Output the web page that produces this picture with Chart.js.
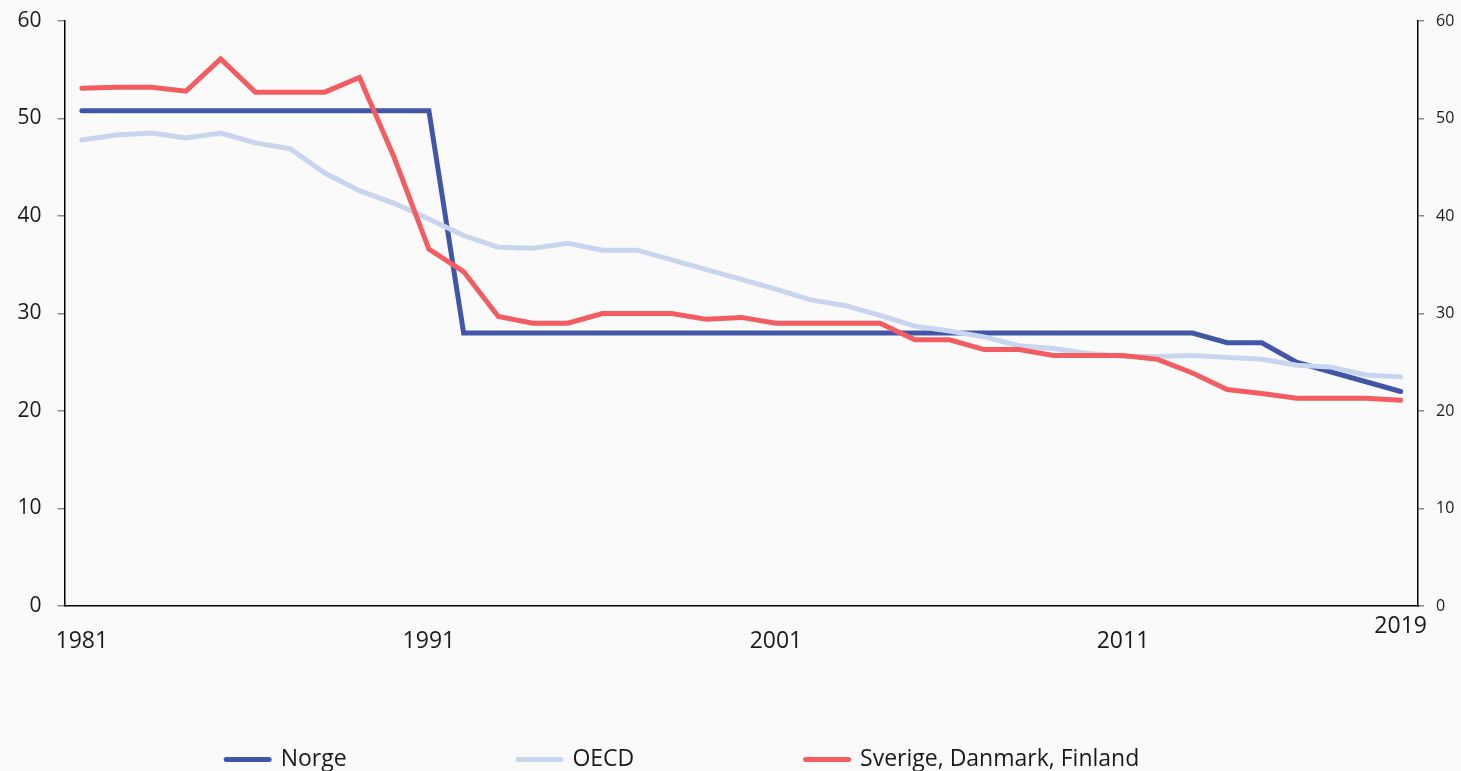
<!DOCTYPE html>
<html>
<head>
<meta charset="utf-8">
<script src="https://cdn.jsdelivr.net/npm/chart.js@4.4.1/dist/chart.umd.min.js"></script>
<style>
  html, body { margin: 0; padding: 0; background: #fafafa; overflow: hidden; }
  #wrap { width: 1461px; height: 771px; }
</style>
</head>
<body>
<div id="wrap"><canvas id="chart"></canvas></div>
<script>
const years = ['1981','1982','1983','1984','1985','1986','1987','1988','1989','1990',
  '1991','1992','1993','1994','1995','1996','1997','1998','1999','2000',
  '2001','2002','2003','2004','2005','2006','2007','2008','2009','2010',
  '2011','2012','2013','2014','2015','2016','2017','2018','2019'];
const xTickLabels = ['1981', '1991', '2001', '2011', '2019'];

const norge = [50.8, 50.8, 50.8, 50.8, 50.8, 50.8, 50.8, 50.8, 50.8, 50.8,
  50.8, 28, 28, 28, 28, 28, 28, 28, 28, 28,
  28, 28, 28, 28, 28, 28, 28, 28, 28, 28,
  28, 28, 28, 27, 27, 25, 24, 23, 22];
const oecd = [47.8, 48.3, 48.5, 48.0, 48.5, 47.5, 46.9, 44.4, 42.6, 41.3,
  39.7, 38.0, 36.8, 36.7, 37.2, 36.5, 36.5, 35.5, 34.5, 33.5,
  32.5, 31.4, 30.8, 29.8, 28.7, 28.2, 27.6, 26.7, 26.4, 25.9,
  25.6, 25.6, 25.7, 25.5, 25.3, 24.7, 24.5, 23.7, 23.5];
const nordic = [53.1, 53.2, 53.2, 52.8, 56.1, 52.7, 52.7, 52.7, 54.2, 46.0,
  36.6, 34.3, 29.7, 29.0, 29.0, 30.0, 30.0, 30.0, 29.4, 29.6,
  29.0, 29.0, 29.0, 29.0, 27.3, 27.3, 26.3, 26.3, 25.7, 25.7,
  25.7, 25.3, 23.9, 22.2, 21.8, 21.3, 21.3, 21.3, 21.1];

const FONT = '"Open Sans", "Noto Sans", sans-serif';
const legendSize = 23;
// room each legend text takes, so the items spread out like the original
const legendRoom = [229.5, 225.5, 372.5];

const measure = document.createElement('canvas').getContext('2d');
measure.font = legendSize + 'px ' + FONT;
function padLabel(text, px) {
  let s = text;
  while (Math.abs(measure.measureText(s + ' ').width - px) < Math.abs(measure.measureText(s).width - px)) s += ' ';
  return s;
}

Chart.defaults.font.family = FONT;
Chart.defaults.color = '#1a1a1a';

const line = (label, data, color, order) => ({
  label, data, order,
  borderColor: color,
  backgroundColor: color,
  borderWidth: 5,
  borderCapStyle: 'round',
  pointRadius: 0,
  tension: 0
});

// y axes: fixed width, no extra room above/below for the end labels
const fixY = w => s => { s.width = w; s.paddingTop = 0; s.paddingBottom = 0; };

new Chart(document.getElementById('chart'), {
  type: 'line',
  data: {
    labels: years,
    datasets: [
      line('Norge', norge, '#4256a8', 3),
      line('OECD', oecd, '#c8d5ee', 2),
      line('Sverige, Danmark, Finland', nordic, '#f35d61', 1)
    ]
  },
  options: {
    responsive: true,
    maintainAspectRatio: false,
    animation: false,
    layout: { padding: { top: 21, bottom: -10, left: 0, right: 0 } },
    scales: {
      x: {
        offset: true,
        grid: { display: false, drawTicks: false },
        border: { display: true, color: '#000', width: 1.5 },
        ticks: {
          autoSkip: false,
          maxRotation: 0,
          padding: 13,
          font: { size: 23, lineHeight: 0.652 },
          callback: function (v, i) {
            const l = years[i];
            if (!xTickLabels.includes(l)) return null;
            return i === years.length - 1 ? l : ['', l];
          }
        },
        afterFit: s => { s.height = 132; }
      },
      y: {
        position: 'left',
        min: 0, max: 60,
        ticks: { stepSize: 10, padding: 16, font: { size: 21 } },
        grid: { drawOnChartArea: false, tickLength: 7, color: '#888', lineWidth: 1.5 },
        border: { color: '#000', width: 1.5 },
        afterFit: fixY(64.5)
      },
      y2: {
        position: 'right',
        min: 0, max: 60,
        ticks: { stepSize: 10, padding: 12, font: { size: 16 } },
        grid: { drawOnChartArea: false, tickLength: 6, color: '#888', lineWidth: 1.5 },
        border: { color: '#000', width: 1.5 },
        afterFit: fixY(43)
      }
    },
    plugins: {
      tooltip: { enabled: false },
      legend: {
        position: 'bottom',
        labels: {
          usePointStyle: true,
          pointStyleWidth: 43,
          boxHeight: 5,
          padding: 10,
          font: { size: legendSize },
          generateLabels: chart => chart.data.datasets.map((ds, i) => ({
            text: padLabel(ds.label, legendRoom[i]),
            fillStyle: ds.borderColor,
            strokeStyle: ds.borderColor,
            lineWidth: 5,
            lineCap: 'round',
            pointStyle: 'line',
            fontColor: '#1a1a1a',
            datasetIndex: i,
            hidden: false
          }))
        }
      }
    }
  }
});
</script>
</body>
</html>
